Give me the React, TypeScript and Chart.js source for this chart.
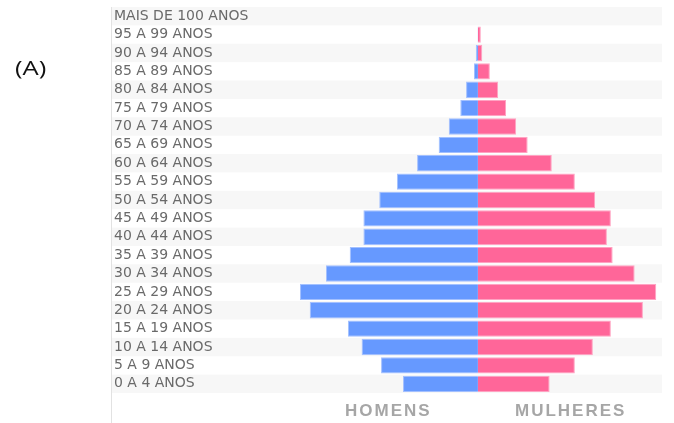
import { useEffect, useRef } from "react";
import Chart from "chart.js/auto";

const categories = [
  "MAIS DE 100 ANOS",
  "95 A 99 ANOS",
  "90 A 94 ANOS",
  "85 A 89 ANOS",
  "80 A 84 ANOS",
  "75 A 79 ANOS",
  "70 A 74 ANOS",
  "65 A 69 ANOS",
  "60 A 64 ANOS",
  "55 A 59 ANOS",
  "50 A 54 ANOS",
  "45 A 49 ANOS",
  "40 A 44 ANOS",
  "35 A 39 ANOS",
  "30 A 34 ANOS",
  "25 A 29 ANOS",
  "20 A 24 ANOS",
  "15 A 19 ANOS",
  "10 A 14 ANOS",
  "5 A 9 ANOS",
  "0 A 4 ANOS",
];

// population share (%)
const homens = [0, 0.01, 0.06, 0.11, 0.33, 0.49, 0.81, 1.09, 1.69, 2.25, 2.74, 3.18, 3.18, 3.56, 4.22, 4.94, 4.67, 3.61, 3.23, 2.69, 2.08];
const mulheres = [0, 0.08, 0.12, 0.33, 0.56, 0.78, 1.06, 1.38, 2.05, 2.69, 3.25, 3.69, 3.58, 3.74, 4.35, 4.95, 4.58, 3.69, 3.19, 2.69, 1.99];

const sideLabels = ["HOMENS", "MULHERES"];
const panelLabel = "(A)";

const axisMin = -10.16;
const axisMax = 5.11;

const bandsPlugin = {
  id: "bands",
  beforeDraw(chart: any) {
    const { ctx, chartArea } = chart;
    const y = chart.scales.y;
    const n = categories.length;
    const h = (chartArea.bottom - chartArea.top) / n;
    ctx.save();
    ctx.fillStyle = "#f7f7f7";
    for (let i = 0; i < n; i += 2) {
      const c = y.getPixelForValue(i);
      ctx.fillRect(chartArea.left, c - h / 2, chartArea.right - chartArea.left, h);
    }
    ctx.strokeStyle = "#e2e2e2";
    ctx.lineWidth = 1;
    ctx.beginPath();
    ctx.moveTo(chartArea.left - 0.5, chartArea.top);
    ctx.lineTo(chartArea.left - 0.5, chart.height);
    ctx.stroke();
    ctx.restore();
  },
};

export default function App() {
  const ref = useRef<HTMLCanvasElement | null>(null);

  useEffect(() => {
    if (!ref.current) return;
    const chart = new Chart(ref.current, {
      type: "bar",
      data: {
        labels: categories,
        datasets: [
          {
            label: sideLabels[0],
            data: homens.map((v) => -v),
            backgroundColor: "#6699ff",
            borderColor: "#a3c0ff",
            borderWidth: 1,
            borderSkipped: "start",
            barPercentage: 0.89,
            categoryPercentage: 1,
          },
          {
            label: sideLabels[1],
            data: mulheres,
            backgroundColor: "#ff6699",
            borderColor: "#ffa3c2",
            borderWidth: 1,
            borderSkipped: "start",
            barPercentage: 0.89,
            categoryPercentage: 1,
          },
        ],
      },
      options: {
        indexAxis: "y",
        animation: false,
        responsive: true,
        maintainAspectRatio: false,
        layout: { padding: { left: 108, right: 12, top: 7, bottom: 30 } },
        plugins: { legend: { display: false }, tooltip: { enabled: false } },
        scales: {
          x: { type: "linear", stacked: true, min: axisMin, max: axisMax, display: false },
          y: {
            stacked: true,
            position: "left",
            grid: { display: false, drawTicks: false },
            border: { display: false },
            afterFit: (s: any) => {
              s.paddingTop = 0;
              s.paddingBottom = 0;
            },
            ticks: {
              mirror: true,
              autoSkip: false,
              padding: 2,
              color: "#6a6a6a",
              font: { family: "'DejaVu Sans', sans-serif", size: 14 },
            },
          },
        },
      },
      plugins: [bandsPlugin],
    } as any);
    return () => chart.destroy();
  }, []);

  const sideStyle: any = {
    position: "absolute",
    top: 402,
    fontFamily: "'Liberation Sans', Arial, sans-serif",
    fontWeight: "bold",
    fontSize: 17,
    lineHeight: "17px",
    letterSpacing: "2px",
    color: "#a6a6a6",
    whiteSpace: "nowrap",
  };

  return (
    <div style={{ position: "fixed", left: 0, top: 0, width: 674, height: 423, background: "#fff" }}>
      <canvas ref={ref} style={{ position: "absolute", left: 0, top: 0 }} />
      <div
        style={{
          position: "absolute",
          left: 15,
          top: 56,
          fontFamily: "'Open Sans', sans-serif",
          fontSize: 20,
          lineHeight: "24px",
          color: "#111",
          transform: "scaleX(1.28)",
          transformOrigin: "left top",
        }}
      >
        {panelLabel}
      </div>
      <div style={{ ...sideStyle, left: 345 }}>{sideLabels[0]}</div>
      <div style={{ ...sideStyle, left: 515 }}>{sideLabels[1]}</div>
    </div>
  );
}
